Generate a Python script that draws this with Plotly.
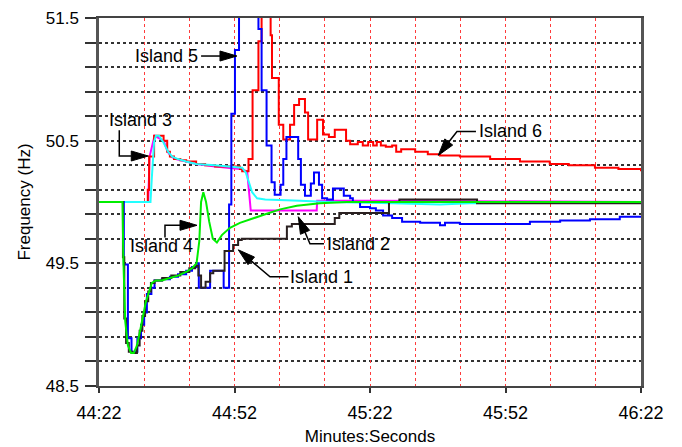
import plotly.graph_objects as go

# ---------------- data (seconds after 44:22, frequency in Hz) ----------------
tick_seconds = [0, 30, 60, 90, 120]
tick_labels = ["44:22", "44:52", "45:22", "45:52", "46:22"]

# Island 1 (black) - step changes
island1_t = [0, 5.3, 5.6, 6.0, 6.6, 7.3, 8.4, 9.0, 9.6, 10.2, 10.9, 11.5, 12.3, 14.0, 16.0,
             18.0, 20.0, 21.3, 22.0, 22.6, 23.6, 24.6, 25.3, 27.8, 29.7, 30.8, 31.6, 41.6, 42.7, 52.2,
             53.2, 64.2, 66.5, 83.7, 120]
island1_f = [50.0, 49.55, 49.05, 48.85, 48.78, 48.77, 48.83, 48.95, 49.07, 49.19, 49.27, 49.34, 49.36, 49.38, 49.40,
             49.43, 49.46, 49.48, 49.40, 49.30, 49.35, 49.42, 49.44, 49.60, 49.65, 49.69, 49.70, 49.80, 49.82, 49.87,
             49.91, 50.0, 50.02, 49.99, 49.99]

# Island 2 (magenta)
island2_t = [0, 10.9, 11.2, 12.3, 14.3, 15.2, 16.0, 17.0, 19.3, 21.5, 25.7, 31.2, 32.8, 33.2, 33.6,
             48.2, 48.3, 62.2, 120]
island2_f = [50.0, 50.0, 50.37, 50.54, 50.50, 50.41, 50.37, 50.35, 50.33, 50.31, 50.29, 50.27, 50.25, 50.10, 49.93,
             49.93, 50.01, 50.01, 50.0]

# Island 3 (cyan)
island3_t = [0, 11.4, 11.7, 12.2, 12.6, 13.3, 14.2, 15.3, 16.2, 17.5, 19.3, 21.5, 25.7, 29.7, 31.7,
             32.5, 33.2, 33.9, 35.0, 36.8, 44.5, 51.1, 65.1, 75.5, 82.1, 120]
island3_f = [50.0, 50.0, 50.2, 50.49, 50.54, 50.54, 50.49, 50.41, 50.37, 50.35, 50.33, 50.31, 50.30, 50.29, 50.28,
             50.24, 50.16, 50.08, 50.03, 50.02, 50.01, 50.0, 49.99, 49.98, 49.99, 50.0]

# Island 4 (green)
island4_t = [0, 5.2, 5.4, 5.8, 6.4, 7.1, 7.7, 8.4, 9.1, 9.7, 10.4, 11.1, 11.7, 12.6, 13.9,
             15.7, 17.5, 19.3, 20.6, 21.6, 22.2, 22.6, 23.1, 23.7, 24.4, 25.2, 26.1, 27.2, 29.0, 31.2,
             33.4, 36.8, 40.1, 43.8, 48.9, 54.9, 120]
island4_f = [50.0, 50.0, 49.52, 49.03, 48.83, 48.77, 48.77, 48.83, 48.95, 49.07, 49.19, 49.27, 49.34, 49.36, 49.36,
             49.38, 49.40, 49.43, 49.46, 49.50, 49.68, 50.0, 50.08, 50.0, 49.84, 49.70, 49.67, 49.73, 49.79, 49.83,
             49.86, 49.90, 49.94, 49.97, 49.99, 50.0, 50.0]

# Island 5 (blue) - step changes
island5_t = [0, 5.5, 6.4, 7.2, 8.5, 9.3, 10.0, 10.6, 11.6, 12.3, 13.9, 15.7, 17.5, 19.3, 20.6,
             21.6, 22.1, 24.6, 27.6, 28.8, 29.3, 30.1, 31.0, 35.3, 36.0, 37.1, 38.2, 38.9, 40.2, 40.8,
             41.5, 44.1, 44.7, 45.6, 46.9, 47.6, 48.7, 49.4, 50.5, 51.8, 54.2, 55.6, 56.2, 57.8, 60.0,
             61.3, 62.9, 64.9, 67.1, 71.1, 75.5, 76.6, 79.9, 82.1, 95.4, 102.1, 108.7, 115.3, 120]
island5_f = [50.0, 49.49, 48.89, 48.78, 48.89, 49.0, 49.10, 49.25, 49.30, 49.36, 49.37, 49.39, 49.41, 49.44, 49.47,
             49.50, 49.30, 49.44, 49.30, 49.98, 50.72, 51.24, 51.6, 51.41, 50.91, 50.46, 50.16, 50.06, 50.14, 50.35,
             50.53, 50.35, 50.14, 50.05, 50.15, 50.24, 50.14, 50.03, 50.02, 50.11, 50.05, 50.03, 50.0, 49.96, 49.95,
             49.93, 49.89, 49.87, 49.84, 49.83, 49.81, 49.83, 49.82, 49.82, 49.84, 49.85, 49.86, 49.88, 49.88]

# Island 6 (red) - step changes
island6_t = [0, 10.8, 11.1, 12.2, 14.3, 15.1, 15.7, 16.6, 18.0, 19.3, 21.5, 23.5, 25.7, 31.2, 31.7,
             33.1, 34.0, 35.3, 36.0, 38.0, 38.3, 39.8, 40.8, 42.3, 43.2, 44.3, 45.6, 46.3, 48.3, 49.6,
             50.9, 52.2, 54.7, 55.6, 57.3, 58.4, 59.6, 60.7, 61.5, 62.4, 63.5, 64.9, 65.8, 66.9, 70.0,
             72.8, 75.5, 79.9, 86.6, 93.2, 99.8, 104.0, 109.8, 115.0, 120]
island6_f = [50.0, 50.10, 50.37, 50.54, 50.50, 50.41, 50.37, 50.35, 50.34, 50.33, 50.31, 50.30, 50.29, 50.27, 50.25,
             50.35, 50.91, 51.31, 51.6, 51.36, 51.01, 50.63, 50.51, 50.63, 50.79, 50.84, 50.73, 50.51, 50.67, 50.55,
             50.53, 50.59, 50.50, 50.47, 50.49, 50.46, 50.49, 50.46, 50.49, 50.46, 50.45, 50.46, 50.41, 50.43, 50.41,
             50.39, 50.38, 50.37, 50.35, 50.33, 50.31, 50.30, 50.28, 50.27, 50.25]

# ---------------- layout constants ----------------
# page body has an 8px default margin, so the figure is 8px smaller than the window
W, H = 674, 439
ML, MR, MT, MB = 91, 41, 10, 61
X_RANGE = [0, 120]
Y_RANGE = [48.5, 51.5]
SX = (W - ML - MR) / (X_RANGE[1] - X_RANGE[0])
SY = (H - MT - MB) / (Y_RANGE[1] - Y_RANGE[0])
FONT = "Liberation Sans, Arial, sans-serif"

fig = go.Figure()

def add(t, f, color, shape, name, width=2):
    fig.add_trace(go.Scatter(x=t, y=f, mode="lines", name=name,
                             line=dict(color=color, width=width, shape=shape),
                             hoverinfo="skip"))

add(island2_t, island2_f, "#ff00ff", "linear", "Island 2")
add(island6_t, island6_f, "#ff0000", "hv", "Island 6")
add(island3_t, island3_f, "#22ffff", "linear", "Island 3")
add(island5_t, island5_f, "#0000ff", "hv", "Island 5")
add(island1_t, island1_f, "#2a2020", "hv", "Island 1")
add(island4_t, island4_f, "#00ee00", "linear", "Island 4")

# ---------------- annotations (labels with elbow arrows) ----------------
label_text = ["Island 1", "Island 2", "Island 3", "Island 4", "Island 5", "Island 6"]
label_pos = [(49.37, 49.39), (57.56, 49.66), (9.08, 50.67), (13.73, 49.64), (15.05, 51.19), (91.21, 50.575)]
arrow_paths = [
    [(41.95, 49.39), (37.86, 49.39), (30.84, 49.61)],
    [(49.81, 49.66), (46.71, 49.66), (44.12, 49.88)],
    [(4.49, 50.585), (4.49, 50.375), (10.91, 50.375)],
    [(14.61, 49.71), (14.61, 49.81), (21.70, 49.81)],
    [(22.6, 51.19), (30.55, 51.19)],
    [(83.46, 50.575), (79.26, 50.575), (75.12, 50.38)],
]

def to_px(t, f):
    return ML + (t - X_RANGE[0]) * SX, MT + (Y_RANGE[1] - f) * SY

def to_data(px, py):
    return X_RANGE[0] + (px - ML) / SX, Y_RANGE[1] - (py - MT) / SY

HEAD_LEN, HEAD_HALF = 17, 5
shapes = []
for path in arrow_paths:
    pts = [to_px(*p) for p in path]
    (x1, y1), (x2, y2) = pts[-2], pts[-1]
    dx, dy = x2 - x1, y2 - y1
    n = (dx * dx + dy * dy) ** 0.5
    ux, uy = dx / n, dy / n
    bx, by = x2 - ux * HEAD_LEN, y2 - uy * HEAD_LEN
    line_pts = pts[:-1] + [(bx, by)]
    d = "M " + " L ".join("%f,%f" % to_data(px, py) for px, py in line_pts)
    shapes.append(dict(type="path", xref="x", yref="y", path=d,
                       line=dict(color="black", width=1.5)))
    c1 = to_data(bx - uy * HEAD_HALF, by + ux * HEAD_HALF)
    c2 = to_data(bx + uy * HEAD_HALF, by - ux * HEAD_HALF)
    tip = to_data(x2, y2)
    dh = "M %f,%f L %f,%f L %f,%f Z" % (tip[0], tip[1], c1[0], c1[1], c2[0], c2[1])
    shapes.append(dict(type="path", xref="x", yref="y", path=dh,
                       line=dict(color="black", width=1), fillcolor="black"))

annotations = [dict(x=x, y=y, xref="x", yref="y", text=txt, showarrow=False,
                    font=dict(family=FONT, size=18, color="black"),
                    xanchor="center", yanchor="middle")
               for txt, (x, y) in zip(label_text, label_pos)]

fig.update_layout(
    width=W, height=H,
    margin=dict(l=ML, r=MR, t=MT, b=MB, autoexpand=False),
    paper_bgcolor="white", plot_bgcolor="white",
    showlegend=False,
    font=dict(family=FONT, size=18, color="black"),
    shapes=shapes, annotations=annotations,
)

fig.update_xaxes(
    range=X_RANGE, tickmode="array", tickvals=tick_seconds, ticktext=tick_labels,
    ticks="outside", ticklen=5, tickwidth=2, tickcolor="#333", ticklabelstandoff=4,
    ticklabeloverflow="allow",
    showline=True, linewidth=2, linecolor="#444", mirror=True,
    showgrid=True, gridcolor="#ff3b3b", griddash="dot", gridwidth=1.3,
    minor=dict(dtick=10, tick0=0, showgrid=True, gridcolor="#ff3b3b", griddash="dot", gridwidth=1.3),
    title=dict(text="Minutes:Seconds", font=dict(size=17), standoff=9),
    tickfont=dict(size=18), zeroline=False, automargin=False,
)
fig.update_yaxes(
    range=Y_RANGE, tick0=48.5, dtick=1, tickformat=".1f",
    ticks="outside", ticklen=11, tickwidth=2, tickcolor="#333", ticklabelstandoff=3,
    ticklabeloverflow="allow",
    showline=True, linewidth=2.5, linecolor="#555", mirror=True,
    showgrid=True, gridcolor="#333", griddash="dot", gridwidth=1.5,
    minor=dict(dtick=0.2, tick0=48.5, ticks="outside", ticklen=11, tickwidth=2, tickcolor="#333",
               showgrid=True, gridcolor="#333", griddash="dot", gridwidth=1.5),
    title=dict(text="Frequency (Hz)", font=dict(size=17), standoff=11),
    tickfont=dict(size=17), zeroline=False, automargin=False,
)

fig.write_html("out.html")
